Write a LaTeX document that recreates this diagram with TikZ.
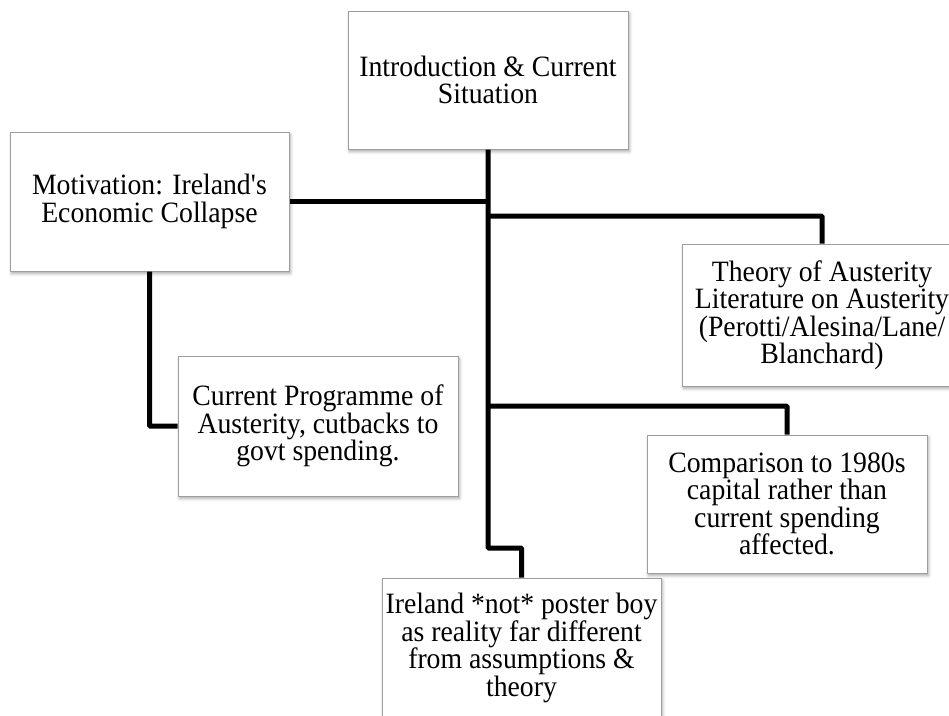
\documentclass[tikz,border=0pt]{standalone}
\usepackage{fontspec}
\setmainfont{Liberation Serif}[FakeStretch=0.94]
\usetikzlibrary{shadows.blur}
\definecolor{boxgray}{HTML}{9E9E9E}
\tikzset{
  box/.style={draw=boxgray, line width=1pt, fill=white, minimum width=280pt,
    minimum height=138pt, inner sep=0pt, align=center,
    font=\fontsize{29.5}{27.5}\selectfont,
    blur shadow={shadow xshift=1.5pt, shadow yshift=-2.5pt, shadow blur radius=3pt, shadow opacity=35}},
  link/.style={line width=5pt, black, rounded corners=1pt}
}
\begin{document}
\begin{tikzpicture}[x=1pt,y=-1pt]
\useasboundingbox (0,0) rectangle (949,715);
\node[box] (top) at (488,80) {Introduction \& Current\\Situation};
\node[box, minimum width=279pt, minimum height=139pt] (mot) at (149.5,201.5) {Motivation: Ireland\textquotesingle s\\Economic Collapse};
\node[box, minimum height=142pt] (theory) at (822,315) {Theory of Austerity\\Literature on Austerity\\(Perotti/Alesina/Lane/\\Blanchard)};
\node[box, minimum height=140pt] (cur) at (318,426) {Current Programme of\\Austerity, cutbacks to\\govt spending.};
\node[box] (comp) at (787,504) {Comparison to 1980s\\capital rather than\\current spending\\affected.};
\node[box, minimum width=279pt, minimum height=140pt] (irl) at (521.5,648) {Ireland *not* poster boy\\as reality far different\\from assumptions \&\\theory};
\coordinate (jt) at (488,216);
\coordinate (jc) at (488,406);
\coordinate (jb) at (488,548);
\draw[link] (top.south) -- (jb) -| (irl.north);
\draw[link] (mot.east) -- (mot.east -| top.south);
\draw[link] (jt) -| (theory.north);
\draw[link] (jc) -| (comp.north);
\draw[link] (mot.south) |- (cur.west);
\end{tikzpicture}
\end{document}
